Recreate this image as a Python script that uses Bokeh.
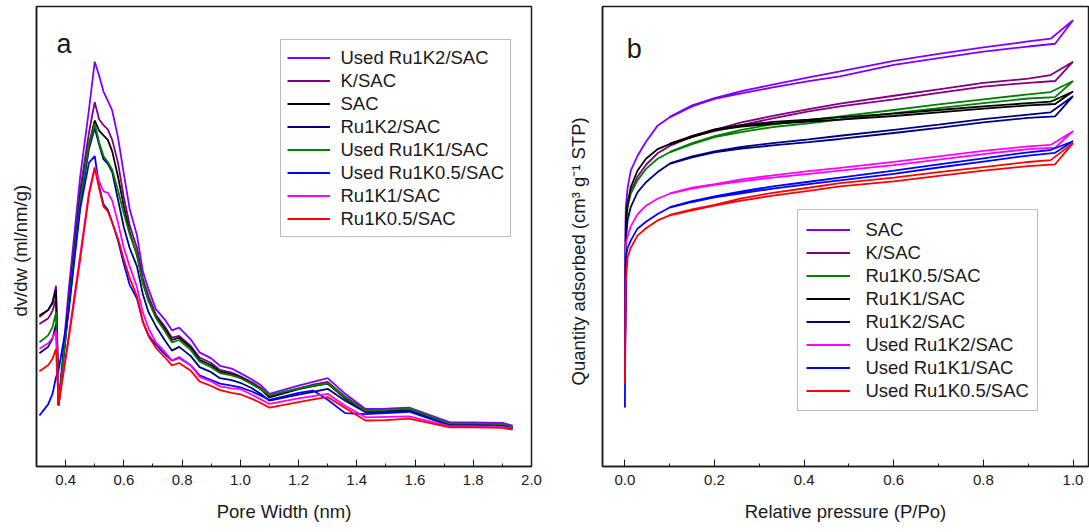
from bokeh.plotting import figure
from bokeh.models import (Range1d, SingleIntervalTicker, FixedTicker, NumeralTickFormatter,
                          Legend, LegendItem, Label, Title)
from bokeh.layouts import row
from bokeh.embed import file_html
from bokeh.resources import INLINE

# ---------------- panel a: pore size distribution (arbitrary dv/dw units) ----------------
PORE_WIDTH = [0.31, 0.34, 0.355, 0.367, 0.376, 0.41, 0.45, 0.48, 0.50, 0.515, 0.53, 0.545,
              0.56, 0.58, 0.60, 0.62, 0.645, 0.665, 0.685, 0.71, 0.74, 0.765, 0.79, 0.83,
              0.86, 0.90, 0.93, 0.97, 1.00, 1.04, 1.07, 1.10, 1.20, 1.25, 1.30, 1.36, 1.43,
              1.50, 1.58, 1.72, 1.80, 1.90, 1.935]

PSD_USED_RU1K2 = [32.5, 34.0, 35.8, 39.3, 13.5, 38.0, 63.0, 77.5, 88.0, 85.0, 81.5, 79.5,
                  77.4, 71.5, 63.6, 56.0, 50.3, 42.5, 38.5, 34.2, 32.0, 29.6, 30.2, 27.6,
                  24.8, 23.5, 21.9, 21.3, 20.3, 18.9, 17.7, 15.8, 17.6, 18.4, 19.2, 15.8, 12.5,
                  12.6, 12.8, 9.6, 9.6, 9.5, 8.9]
PSD_K_SAC = [31.0, 32.2, 33.8, 36.5, 13.3, 36.0, 60.0, 72.5, 79.2, 75.5, 74.2, 73.3,
             71.0, 66.0, 58.5, 52.5, 47.5, 41.0, 37.0, 33.0, 30.5, 28.0, 28.4, 26.2,
             23.7, 22.5, 21.0, 20.4, 19.6, 18.3, 17.1, 15.3, 17.0, 17.8, 18.4, 15.2, 12.2,
             12.3, 12.5, 9.3, 9.3, 9.2, 8.7]
PSD_SAC = [32.8, 34.0, 35.5, 38.5, 13.3, 35.0, 58.5, 70.0, 75.2, 73.0, 72.0, 71.0,
           68.5, 63.0, 56.5, 51.0, 46.0, 40.0, 36.0, 32.5, 30.0, 27.5, 28.0, 25.8,
           23.2, 22.0, 20.6, 20.1, 19.4, 18.0, 16.8, 15.0, 16.8, 17.5, 18.0, 14.8, 11.9,
           12.0, 12.2, 9.1, 9.1, 9.0, 8.5]
PSD_RU1K2 = [24.6, 26.0, 27.8, 31.0, 13.3, 34.0, 57.0, 69.0, 73.6, 70.0, 66.8, 65.8,
             64.0, 58.0, 52.0, 47.5, 43.5, 37.5, 33.5, 30.5, 27.5, 25.2, 26.0, 24.0,
             21.6, 20.5, 19.2, 18.8, 18.2, 17.0, 15.8, 14.3, 15.6, 16.2, 16.9, 14.3, 11.8,
             11.9, 12.1, 9.0, 9.0, 8.9, 8.4]
PSD_USED_RU1K1 = [27.0, 28.5, 30.3, 33.5, 13.4, 34.5, 57.8, 70.0, 74.5, 70.5, 67.5, 66.2,
                  64.5, 60.0, 55.0, 50.5, 46.0, 40.0, 36.0, 32.3, 29.5, 27.0, 27.5, 25.3,
                  22.8, 21.6, 20.3, 19.8, 19.2, 17.9, 16.8, 15.5, 17.0, 17.6, 18.1, 15.0, 12.1,
                  12.3, 12.6, 9.3, 9.3, 9.2, 8.6]
PSD_USED_RU1K05 = [11.1, 13.5, 15.8, 19.4, 21.0, 33.5, 56.0, 66.0, 67.5, 61.0, 57.0, 55.8,
                   53.1, 49.1, 44.0, 39.5, 36.5, 31.5, 28.5, 26.5, 24.5, 23.0, 23.6, 22.0,
                   19.8, 18.8, 18.0, 17.6, 17.2, 16.3, 15.4, 14.5, 16.0, 16.5, 14.5, 11.6, 11.4,
                   11.6, 11.9, 8.9, 8.9, 8.8, 8.3]
PSD_RU1K1 = [25.6, 26.8, 28.0, 29.5, 13.8, 28.0, 46.0, 59.5, 65.1, 62.0, 59.8, 59.5,
             57.8, 53.0, 47.5, 43.5, 39.0, 33.5, 30.0, 27.0, 25.0, 23.1, 23.8, 22.0,
             19.5, 18.5, 17.4, 17.0, 16.8, 15.6, 14.6, 13.6, 14.8, 15.3, 15.8, 13.2, 10.7,
             10.8, 10.9, 8.7, 8.7, 8.6, 8.2]
PSD_RU1K05 = [20.7, 22.0, 23.4, 25.6, 13.5, 27.5, 45.0, 59.0, 64.8, 60.5, 56.5, 55.5,
              53.0, 49.5, 45.0, 41.0, 37.0, 31.5, 28.3, 25.8, 23.8, 22.0, 22.5, 20.8,
              18.5, 17.5, 16.6, 16.0, 15.7, 14.7, 13.8, 12.8, 14.0, 14.6, 15.1, 12.7, 10.0,
              10.1, 10.4, 8.5, 8.5, 8.4, 8.0]

PSD_LABELS = ["Used Ru1K2/SAC", "K/SAC", "SAC", "Ru1K2/SAC", "Used Ru1K1/SAC",
              "Used Ru1K0.5/SAC", "Ru1K1/SAC", "Ru1K0.5/SAC"]
PSD_SERIES = [PSD_USED_RU1K2, PSD_K_SAC, PSD_SAC, PSD_RU1K2, PSD_USED_RU1K1,
              PSD_USED_RU1K05, PSD_RU1K1, PSD_RU1K05]
PSD_COLORS = ["#8000FF", "#800080", "#000000", "#000080", "#008000", "#0000FF",
              "#FF00FF", "#FF0000"]

# ---------------- panel b: N2 isotherms (arbitrary quantity units) ----------------
P_ADS = [0.0, 0.002, 0.006, 0.013, 0.028, 0.047, 0.073, 0.10, 0.15, 0.20, 0.26, 0.33,
         0.41, 0.48, 0.60, 0.70, 0.80, 0.90, 0.96, 1.0]
P_DES = [1.0, 0.95, 0.90, 0.80, 0.70, 0.60, 0.48, 0.41, 0.33, 0.26, 0.20, 0.15, 0.10]

ADS_SAC = [18.0, 56.4, 60.5, 64.3, 67.5, 70.6, 74.1, 75.9, 78.3, 79.9, 81.1, 82.4,
           83.8, 84.8, 87.3, 88.8, 90.2, 91.3, 91.9, 97.0]
DES_SAC = [97.0, 93.0, 92.4, 91.1, 89.7, 88.2, 85.9, 84.6, 83.0, 81.6, 80.1, 78.5, 76.0]
ADS_K_SAC = [18.3, 55.0, 57.8, 59.8, 63.0, 65.6, 68.1, 69.7, 71.7, 72.9, 74.2, 75.7,
             77.2, 78.3, 79.8, 81.2, 82.6, 83.4, 83.8, 88.0]
DES_K_SAC = [88.0, 85.1, 84.3, 83.4, 82.0, 80.6, 78.9, 77.7, 76.2, 74.8, 73.2, 71.9, 69.8]
ADS_RU1K05 = [20.0, 50.6, 56.4, 59.3, 62.2, 64.7, 66.9, 68.3, 70.1, 71.6, 72.7, 73.8,
              74.6, 75.4, 76.8, 77.9, 79.0, 80.0, 80.3, 83.8]
DES_RU1K05 = [83.8, 81.4, 80.9, 79.8, 78.7, 77.5, 76.1, 75.3, 74.4, 73.2, 71.8, 70.3, 68.4]
ADS_RU1K1 = [20.0, 53.5, 57.0, 60.7, 64.3, 66.9, 69.0, 70.1, 71.6, 73.1, 73.9, 74.5,
             75.0, 75.4, 76.2, 77.0, 77.8, 78.5, 78.8, 81.5]
DES_RU1K1 = [81.5, 79.3, 79.0, 78.3, 77.5, 76.7, 75.9, 75.4, 74.9, 74.2, 73.3, 71.8, 70.2]
ADS_RU1K2 = [21.0, 49.1, 53.5, 56.4, 59.6, 61.8, 64.0, 65.8, 67.2, 68.3, 69.1, 69.8,
             70.5, 71.2, 72.5, 73.6, 74.8, 75.8, 76.1, 80.5]
DES_RU1K2 = [80.5, 77.0, 76.5, 75.5, 74.3, 73.2, 71.9, 71.1, 70.3, 69.5, 68.5, 67.4, 65.9]
ADS_USED_RU1K2 = [22.0, 48.4, 50.0, 52.2, 54.8, 56.7, 58.2, 59.3, 60.4, 61.2, 62.0, 62.8,
                  63.6, 64.3, 65.5, 66.7, 67.9, 69.0, 69.3, 72.9]
DES_USED_RU1K2 = [72.9, 69.9, 69.6, 68.6, 67.4, 66.2, 64.9, 64.2, 63.3, 62.4, 61.4, 60.6, 59.4]
ADS_USED_RU1K1 = [12.8, 45.5, 47.5, 49.1, 51.7, 53.2, 54.9, 56.3, 57.5, 58.5, 59.4, 60.4,
                  61.4, 62.2, 63.6, 65.0, 66.3, 67.6, 68.2, 70.7]
DES_USED_RU1K1 = [70.7, 68.8, 68.3, 67.0, 65.7, 64.3, 62.8, 61.9, 60.9, 59.8, 58.7, 57.7, 56.4]
ADS_USED_RU1K05 = [18.0, 40.0, 45.5, 47.5, 50.2, 51.8, 53.5, 54.6, 55.7, 56.7, 57.8, 58.9,
                   59.9, 60.9, 62.0, 63.2, 64.3, 65.3, 65.7, 70.3]
DES_USED_RU1K05 = [70.3, 66.6, 66.2, 65.1, 64.0, 62.8, 61.6, 60.6, 59.5, 58.3, 56.9, 55.9, 54.7]

ISO_LABELS = ["SAC", "K/SAC", "Ru1K0.5/SAC", "Ru1K1/SAC", "Ru1K2/SAC",
              "Used Ru1K2/SAC", "Used Ru1K1/SAC", "Used Ru1K0.5/SAC"]
ISO_ADS = [ADS_SAC, ADS_K_SAC, ADS_RU1K05, ADS_RU1K1, ADS_RU1K2,
           ADS_USED_RU1K2, ADS_USED_RU1K1, ADS_USED_RU1K05]
ISO_DES = [DES_SAC, DES_K_SAC, DES_RU1K05, DES_RU1K1, DES_RU1K2,
           DES_USED_RU1K2, DES_USED_RU1K1, DES_USED_RU1K05]
ISO_COLORS = ["#8000FF", "#800080", "#008000", "#000000", "#000080", "#FF00FF",
              "#0000FF", "#FF0000"]

FONT = "Liberation Sans"
INK = "#1a1a1a"


def make_fig(x_start, x_end, frame_w, border_l, border_r, ylabel, ylabel_offset, ylabel_standoff):
    p = figure(frame_width=frame_w, frame_height=460,
               x_range=Range1d(x_start, x_end), y_range=Range1d(0, 100),
               output_backend="svg", toolbar_location=None,
               min_border_left=border_l, min_border_right=border_r,
               min_border_top=6, min_border_bottom=66)
    p.background_fill_color = "white"
    p.border_fill_color = "white"
    p.outline_line_color = INK
    p.outline_line_width = 1.5
    p.outline_line_alpha = 1.0
    p.xgrid.visible = False
    p.ygrid.visible = False
    xa = p.xaxis[0]
    xa.ticker = SingleIntervalTicker(interval=0.2, num_minor_ticks=2)
    xa.formatter = NumeralTickFormatter(format="0.0")
    xa.major_tick_in = 7
    xa.major_tick_out = 0
    xa.minor_tick_in = 3
    xa.minor_tick_out = 0
    xa.axis_line_color = INK
    xa.axis_line_width = 1.5
    xa.major_tick_line_color = INK
    xa.minor_tick_line_color = INK
    xa.major_label_text_font = FONT
    xa.major_label_text_font_size = "15px"
    xa.major_label_text_color = INK
    xa.major_label_standoff = 8
    xa.axis_label_text_font = FONT
    xa.axis_label_text_font_size = "18.5px"
    xa.axis_label_text_font_style = "normal"
    xa.axis_label_text_color = INK
    xa.axis_label_standoff = 13
    ya = p.yaxis[0]
    ya.ticker = FixedTicker(ticks=[])
    ya.major_tick_line_color = None
    ya.minor_tick_line_color = None
    ya.major_label_text_font_size = "0px"
    ya.major_label_standoff = 0
    ya.major_tick_out = 0
    ya.axis_line_color = INK
    ya.axis_line_width = 1.5
    # y-axis title as a side-panel Title so it can sit slightly below the frame centre
    p.add_layout(Title(text=ylabel, align="left", offset=ylabel_offset,
                       standoff=ylabel_standoff, text_font=FONT,
                       text_font_size="18.5px", text_font_style="normal",
                       text_color=INK), "left")
    return p


# ---- panel a ----
pa = make_fig(0.3, 2.0, 495, 36, 20, "dv/dw (ml/nm/g)", 150, 12)
pa.xaxis[0].axis_label = "Pore Width (nm)"
items_a = []
for lab, ys, col in zip(PSD_LABELS, PSD_SERIES, PSD_COLORS):
    r = pa.line(PORE_WIDTH, ys, line_color=col, line_width=1.8)
    items_a.append(LegendItem(label=lab, renderers=[r]))
leg_a = Legend(items=items_a, location=(243.5, 229), label_text_font=FONT,
               label_text_font_size="18.5px", label_text_color=INK,
               glyph_width=43, glyph_height=23, label_height=23, label_standoff=11,
               padding=6, spacing=0, margin=0, border_line_color="#777777",
               border_line_width=1, background_fill_color="white", background_fill_alpha=1)
pa.add_layout(leg_a)
pa.add_layout(Label(x=20, y=422.7, x_units="screen", y_units="screen", text="a",
                    text_font=FONT, text_font_size="27px", text_color=INK,
                    text_align="left", text_baseline="alphabetic"))

# ---- panel b ----
pb = make_fig(-0.05, 1.0345, 486, 51, 1, "Quantity adsorbed (cm\u00b3 g\u207b\u00b9 STP)", 81, 27)
pb.xaxis[0].axis_label = "Relative pressure (P/Po)"
items_b = []
for lab, ads, des, col in zip(ISO_LABELS, ISO_ADS, ISO_DES, ISO_COLORS):
    xs = P_ADS + P_DES
    ys = ads + des
    r = pb.line(xs, ys, line_color=col, line_width=1.8)
    items_b.append(LegendItem(label=lab, renderers=[r]))
leg_b = Legend(items=items_b, location=(195.4, 55), label_text_font=FONT,
               label_text_font_size="18.5px", label_text_color=INK,
               glyph_width=44, glyph_height=23, label_height=23, label_standoff=15,
               padding=8, spacing=0, margin=0, border_line_color="#777777",
               border_line_width=1, background_fill_color="white", background_fill_alpha=1)
pb.add_layout(leg_b)
pb.add_layout(Label(x=24.3, y=417.7, x_units="screen", y_units="screen", text="b",
                    text_font=FONT, text_font_size="27px", text_color=INK,
                    text_align="left", text_baseline="alphabetic"))

layout = row(pa, pb, spacing=0)
open("out.html", "w").write(file_html(layout, INLINE))
